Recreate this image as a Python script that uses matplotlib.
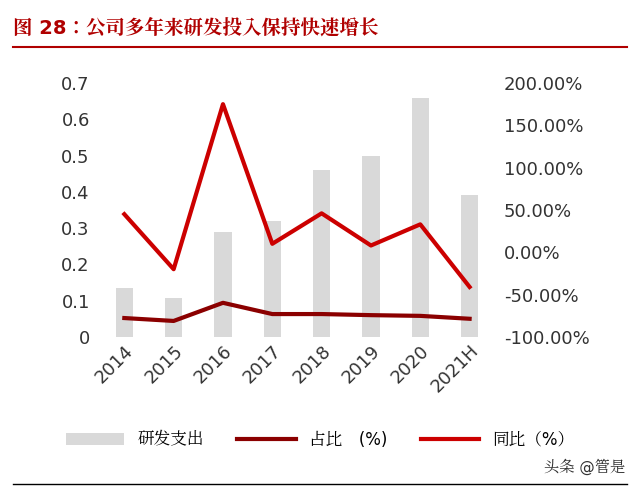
import matplotlib.pyplot as plt
from matplotlib import font_manager
from matplotlib.ticker import FuncFormatter

cjk = [f.name for f in font_manager.fontManager.ttflist if "CJK" in f.name]
cjk_name = next((n for n in cjk if "SC" in n), cjk[0] if cjk else "DejaVu Sans")
plt.rcParams["font.family"] = ["DejaVu Sans", cjk_name]

years = ["2014", "2015", "2016", "2017", "2018", "2019", "2020", "2021H"]
rd_spend = [0.135, 0.107, 0.29, 0.32, 0.46, 0.50, 0.66, 0.39]
share = [0.052, 0.044, 0.094, 0.063, 0.063, 0.060, 0.058, 0.050]
yoy = [45, -20, 175, 10, 46, 8, 33, -41]

fig = plt.figure(figsize=(6.4, 4.94), dpi=100)
ax = fig.add_axes([0.148, 0.318, 0.632, 0.514])
ax2 = ax.twinx()

x = range(len(years))
bars = ax.bar(x, rd_spend, width=0.35, color="#d9d9d9", label="研发支出")
l_share, = ax.plot(x, share, color="#8b0000", lw=3, label="占比　(%)")
l_yoy, = ax2.plot(x, yoy, color="#cc0000", lw=3, label="同比（%）")

ax.set_ylim(0, 0.7)
ax.set_yticks([i / 10 for i in range(8)])
ax.set_yticklabels(["0"] + [f"{i / 10:.1f}" for i in range(1, 8)])
ax2.set_ylim(-100, 200)
ax2.set_yticks(range(-100, 201, 50))
ax2.yaxis.set_major_formatter(FuncFormatter(lambda v, p: f"{v:.2f}%"))
ax.set_xticks(list(x))
ax.set_xticklabels(years, rotation=45, ha="right", rotation_mode="anchor")
ax.set_xlim(-0.6, len(years) - 0.4)

for a in (ax, ax2):
    for s in a.spines.values():
        s.set_visible(False)
    a.tick_params(length=0, labelsize=13, colors="#333333")

fig.legend([bars, l_share, l_yoy], ["研发支出", "占比　(%)", "同比（%）"],
           loc="center", bbox_to_anchor=(0.5, 0.11), ncol=3,
           frameon=False, fontsize=12, handlelength=3.5, columnspacing=2)

fig.text(0.02, 0.945, "图 28：公司多年来研发投入保持快速增长", color="#b00000",
         fontsize=14, fontweight="bold", va="center")
fig.add_artist(plt.Line2D([0.02, 0.98], [0.905, 0.905], color="#b00000", lw=1.5))
fig.add_artist(plt.Line2D([0.02, 0.98], [0.02, 0.02], color="black", lw=1))
fig.text(0.85, 0.055, "头条 @管是", fontsize=11, color="#333333", va="center")

fig.savefig("out.png")
